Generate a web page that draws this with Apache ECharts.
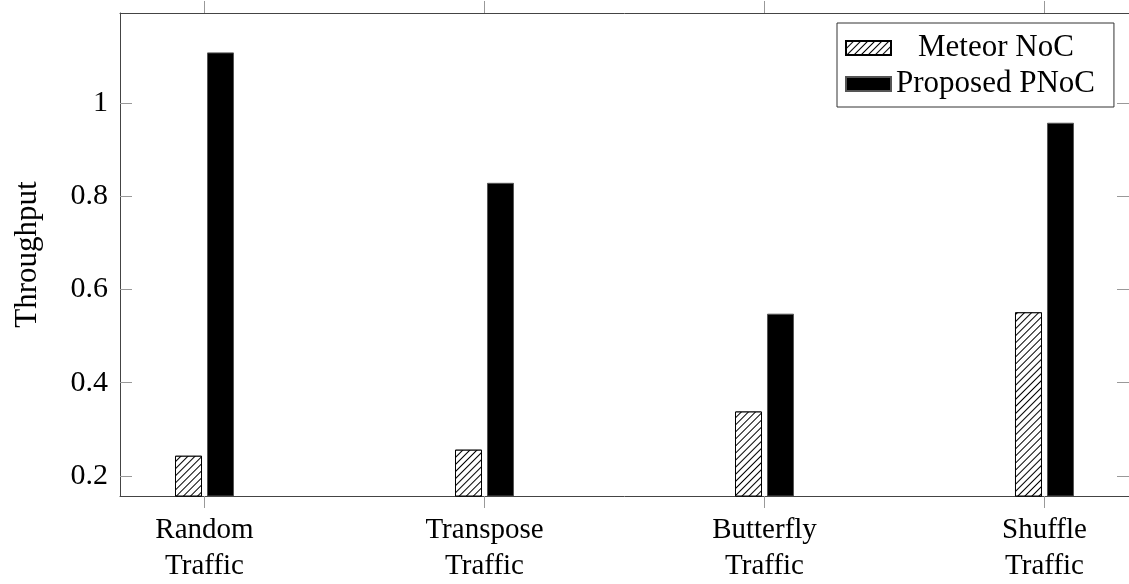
<!DOCTYPE html>
<html>
<head>
<meta charset="utf-8">
<script src="https://cdn.jsdelivr.net/npm/echarts@6/dist/echarts.min.js"></script>
<style>
html,body{margin:0;padding:0;background:#fff;}
#chart{width:1129px;height:584px;}
</style>
</head>
<body>
<div id="chart"></div>
<script>
var categories = ['Random\nTraffic', 'Transpose\nTraffic', 'Butterfly\nTraffic', 'Shuffle\nTraffic'];
var meteorNoC = [0.243, 0.256, 0.338, 0.551];
var proposedPNoC = [1.109, 0.829, 0.548, 0.958];
var yTicks = [0.2, 0.4, 0.6, 0.8, 1];
var xTickIdx = [0, 1, 2, 3];

var FONT = '"Liberation Serif", "Times New Roman", serif';
var chart = echarts.init(document.getElementById('chart'), null, {renderer: 'canvas'});

function pairs(arr) { return arr.map(function (v, i) { return [i, v]; }); }

var xCommon = {
  type: 'value', min: -0.3018, max: 3.3018,
  splitLine: {show: false},
  axisLine: {show: true, onZero: false, lineStyle: {color: '#444', width: 1}},
  axisTick: {show: true, inside: false, length: 12, customValues: xTickIdx, lineStyle: {color: '#999'}}
};
var yCommon = {
  type: 'value', min: 0.1566, max: 1.1936,
  splitLine: {show: false},
  axisLine: {show: true, onZero: false, lineStyle: {color: '#444', width: 1}},
  axisTick: {show: true, inside: true, length: 12, customValues: yTicks, lineStyle: {color: '#999'}}
};

var hatch = {symbol: 'rect', symbolSize: 1, dashArrayX: [[1, 0]], dashArrayY: [1, 4], rotation: -Math.PI / 4, color: '#000', backgroundColor: '#fff'};

chart.setOption({
  animation: false,
  backgroundColor: '#fff',
  grid: {left: 120, top: 13, right: -6, bottom: 86, containLabel: false},
  xAxis: [
    Object.assign({}, xCommon, {
      position: 'bottom',
      axisLabel: {
        show: true, customValues: xTickIdx, margin: 16,
        fontFamily: FONT, fontSize: 29, color: '#000', lineHeight: 36,
        formatter: function (v) { return categories[Math.round(v)] || ''; }
      }
    }),
    Object.assign({}, xCommon, {position: 'top', axisLabel: {show: false}})
  ],
  yAxis: [
    Object.assign({}, yCommon, {
      position: 'left',
      name: 'Throughput', nameLocation: 'middle', nameRotate: 90, nameGap: 77,
      nameTextStyle: {fontFamily: FONT, fontSize: 31, color: '#000'},
      axisLabel: {show: true, customValues: yTicks, margin: 12, fontFamily: FONT, fontSize: 30, color: '#000'}
    }),
    Object.assign({}, yCommon, {position: 'right', axisLabel: {show: false}})
  ],
  legend: {
    orient: 'vertical', left: 837, top: 23,
    padding: [7, 19, 5, 8], itemGap: 0,
    itemWidth: 45, itemHeight: 14, icon: 'rect',
    borderColor: '#333', borderWidth: 1, backgroundColor: '#fff',
    textStyle: {fontFamily: FONT, fontSize: 31, color: '#000', lineHeight: 36},
    data: [
      {name: 'Meteor NoC', icon: 'rect', textStyle: {padding: [0, 0, 0, 22]}},
      {name: 'Proposed PNoC', icon: 'rect'}
    ]
  },
  series: [
    {
      name: 'Meteor NoC', type: 'bar', xAxisIndex: 0, yAxisIndex: 0,
      barWidth: 27, barGap: '18.5%',
      itemStyle: {color: '#fff', borderColor: '#000', borderWidth: 1, decal: hatch},
      data: pairs(meteorNoC)
    },
    {
      name: 'Proposed PNoC', type: 'bar', xAxisIndex: 0, yAxisIndex: 0,
      barWidth: 27, barGap: '18.5%',
      itemStyle: {color: '#000', borderColor: '#555', borderWidth: 1},
      data: pairs(proposedPNoC)
    }
  ]
});
</script>
</body>
</html>
